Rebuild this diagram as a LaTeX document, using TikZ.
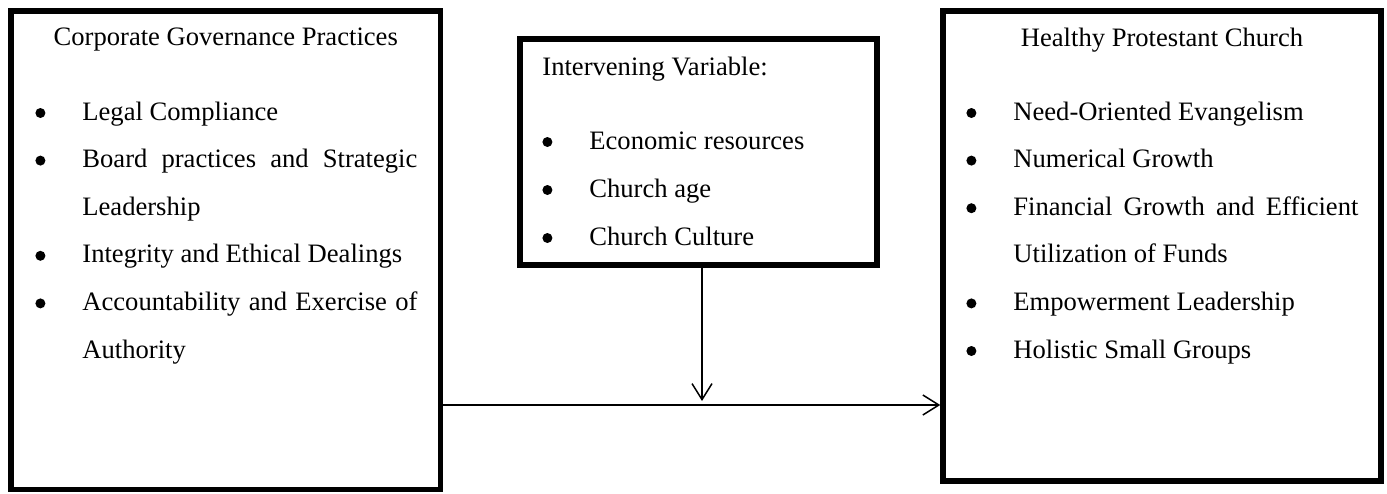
\documentclass[tikz,border=0pt]{standalone}
\usepackage{fontspec}
\setmainfont{Liberation Serif}
\usetikzlibrary{arrows.meta}

% bullet item: the dot hangs to the left of the text
\newcommand{\bul}[1]{\noindent\llap{\tikz[baseline=0pt]\fill (0,3.5pt) circle (2.5pt);\hspace{18.5pt}}#1\par}

\tikzset{
  box/.style={draw, line width=2.75pt, inner sep=0pt},
  title/.style={inner sep=0pt, anchor=base},
  items/.style={inner sep=0pt, anchor=base west, align=justify},
  arr/.style={line width=0.75pt, -{Straight Barb[length=8pt,width=10pt]}}
}

\begin{document}
\begin{tikzpicture}[x=0.5pt, y=-0.5pt, font=\fontsize{13.3}{23.8}\selectfont]
\useasboundingbox (0,0) rectangle (1387,493);

% Draw the three boxes
    \node[box, minimum width=214.75pt, minimum height=239.25pt] (cgp) at (225.75,250.25) {};
    \node[box, minimum width=178.5pt, minimum height=113pt] (iv) at (698.5,152) {};
    \node[box, minimum width=219pt, minimum height=235pt] (hpc) at (1162,246) {};

% Left box: independent variable
    \node[title] (cgptitle) at (225.75,45) {Corporate Governance Practices};
    \node[items, text width=167.5pt] (cgplist) at (82,120) {%
      \bul{Legal Compliance}
      \bul{Board practices and Strategic Leadership}
      \bul{Integrity and Ethical Dealings}
      \bul{Accountability and Exercise of Authority}};

% Middle box: intervening variable
    \node[title, anchor=base west] (ivtitle) at (542,75) {Intervening Variable:};
    \node[items, text width=130pt, font=\fontsize{13.3}{24}\selectfont] (ivlist) at (589,149) {%
      \bul{Economic resources}
      \bul{Church age}
      \bul{Church Culture}};

% Right box: dependent variable
    \node[title] (hpctitle) at (1162,46) {Healthy Protestant Church};
    \node[items, text width=172.5pt] (hpclist) at (1013,120) {%
      \bul{Need-Oriented Evangelism}
      \bul{Numerical Growth}
      \bul{Financial Growth and Efficient Utilization of Funds}
      \bul{Empowerment Leadership}
      \bul{Holistic Small Groups}};

% Add arrows
    \coordinate (junction) at (702,405);
    \draw[arr] (cgp.east |- junction) -- (hpc.west |- junction);
    \draw[arr, shorten >=2pt] (iv.south -| junction) -- (junction);

\end{tikzpicture}
\end{document}
